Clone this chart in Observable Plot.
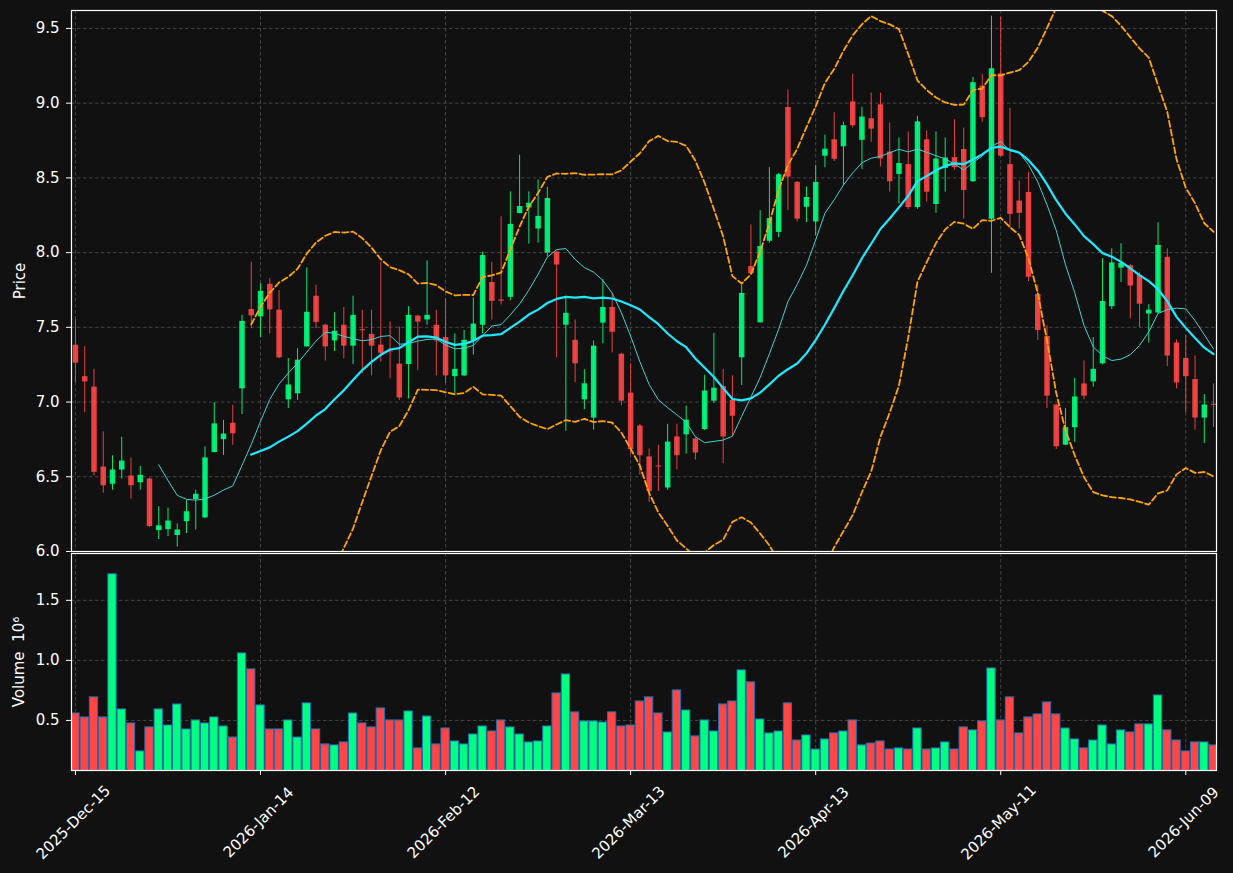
<!DOCTYPE html>
<html><head><meta charset="utf-8">
<script src="https://cdn.jsdelivr.net/npm/d3@7"></script>
<script src="https://cdn.jsdelivr.net/npm/@observablehq/plot@0.6"></script>
<style>
html,body{margin:0;padding:0;background:#111;}
#chart{position:relative;width:1233px;height:873px;background:#111;overflow:hidden;}
#chart svg{position:absolute;left:0;overflow:visible;}
</style></head><body><div id="chart"></div>
<script>
// ---- data ----
const opens = [7.38,7.17,7.10,6.565,6.45,6.545,6.505,6.46,6.485,6.14,6.146,6.107,6.20,6.348,6.225,6.662,6.748,6.858,7.088,7.619,
7.57,7.788,7.615,7.015,7.055,7.369,7.708,7.514,7.409,7.514,7.374,7.484,7.453,7.381,7.342,7.254,7.251,7.575,7.549,7.514,
7.432,7.17,7.175,7.409,7.514,7.80,7.683,7.701,8.261,8.299,8.158,7.997,8.004,7.514,7.413,7.015,6.893,7.528,7.633,7.32,
7.06,6.84,6.633,6.572,6.425,6.767,6.781,6.753,6.816,7.006,7.104,7.011,7.296,7.907,7.53,8.076,8.135,8.971,8.47,8.303,
8.205,8.645,8.755,8.708,9.008,8.751,8.896,8.989,8.673,8.523,8.589,8.301,8.755,8.322,8.563,8.636,8.69,8.474,9.114,8.224,
9.196,8.589,8.345,8.402,7.72,7.439,6.98,6.711,6.828,7.121,7.135,7.256,7.638,7.896,7.912,7.847,7.589,7.596,7.968,7.395,
7.292,7.151,6.893,6.985];
const highs = [7.55,7.37,7.22,6.80,6.64,6.765,6.625,6.57,6.49,6.30,6.29,6.184,6.34,6.41,6.70,6.997,6.877,6.978,7.58,7.936,
7.792,7.826,7.746,7.292,7.357,7.898,7.781,7.52,7.598,7.633,7.708,7.615,7.615,7.936,7.537,7.502,7.638,7.58,7.945,7.615,
7.69,7.456,7.479,7.697,8.004,7.936,8.24,8.406,8.652,8.406,8.486,8.437,8.01,7.701,7.549,7.217,7.409,7.819,7.725,7.327,
7.256,6.85,6.687,6.711,6.851,6.851,6.973,6.76,7.179,7.46,7.219,7.175,7.783,8.186,8.28,8.568,8.53,9.088,8.475,8.439,
8.584,8.786,8.936,8.872,9.193,8.973,9.067,9.067,8.868,8.767,8.807,8.912,8.814,8.807,8.767,8.889,8.833,9.172,9.193,9.582,
9.575,8.966,8.479,8.537,7.783,7.509,6.985,6.956,7.158,7.275,7.432,7.959,8.025,8.06,7.92,7.865,7.652,8.20,8.025,7.416,
7.444,7.31,7.05,7.121];
const lows = [7.13,6.93,6.505,6.39,6.41,6.485,6.35,6.41,6.16,6.08,6.10,6.03,6.12,6.144,6.22,6.66,6.643,6.711,6.917,7.491,
7.432,7.456,7.29,6.957,7.011,7.369,7.491,7.275,7.338,7.289,7.251,7.191,7.175,7.268,7.156,7.011,7.02,7.21,7.514,7.175,
7.124,7.057,7.17,7.315,7.456,7.549,7.65,7.678,8.26,8.057,8.064,7.971,7.296,6.804,7.13,6.949,6.812,7.39,7.329,6.975,
6.648,6.512,6.328,6.402,6.409,6.547,6.652,6.612,6.81,6.992,6.589,6.776,7.111,7.855,7.53,8.064,8.10,8.28,8.205,8.20,
8.111,8.568,8.61,8.451,8.833,8.556,8.737,8.573,8.404,8.327,8.287,8.29,8.338,8.263,8.404,8.551,8.224,8.47,8.872,7.861,
8.64,8.158,8.158,7.807,7.413,6.956,6.683,6.71,6.73,7.015,7.10,7.25,7.619,7.80,7.556,7.498,7.395,7.59,7.238,7.088,
6.929,6.812,6.722,6.83];
const closes = [7.26,7.135,6.53,6.44,6.545,6.605,6.44,6.51,6.167,6.172,6.204,6.144,6.266,6.383,6.626,6.854,6.786,6.788,7.54,7.577,
7.741,7.617,7.296,7.114,7.28,7.601,7.533,7.369,7.474,7.374,7.58,7.477,7.374,7.326,7.335,7.027,7.58,7.535,7.58,7.409,
7.175,7.219,7.413,7.522,7.98,7.674,7.675,8.189,8.308,8.33,8.242,8.362,7.917,7.594,7.256,7.122,7.374,7.633,7.467,7.006,
6.683,6.641,6.402,6.565,6.732,6.641,6.879,6.659,7.074,7.093,6.767,6.905,7.727,7.858,8.041,8.228,8.521,8.505,8.224,8.369,
8.47,8.692,8.624,8.849,8.849,8.907,8.826,8.626,8.474,8.596,8.301,8.875,8.404,8.626,8.633,8.568,8.416,9.137,8.903,9.231,
8.645,8.256,8.263,7.835,7.479,7.039,6.701,6.829,7.034,7.039,7.219,7.673,7.931,7.929,7.776,7.655,7.615,8.048,7.308,7.128,
7.17,6.893,6.98,6.978];
const volumes = [0.558,0.525,0.692,0.525,1.717,0.592,0.475,0.242,0.442,0.592,0.458,0.633,0.425,0.500,0.475,0.525,0.450,0.358,1.058,0.925,
0.625,0.425,0.425,0.500,0.358,0.642,0.425,0.300,0.292,0.317,0.558,0.475,0.442,0.600,0.500,0.500,0.575,0.267,0.533,0.300,
0.433,0.325,0.300,0.383,0.450,0.408,0.500,0.442,0.383,0.317,0.325,0.450,0.725,0.883,0.567,0.492,0.492,0.483,0.567,0.450,
0.458,0.658,0.692,0.558,0.400,0.750,0.583,0.367,0.500,0.408,0.633,0.658,0.917,0.817,0.508,0.392,0.408,0.642,0.333,0.375,
0.258,0.342,0.392,0.408,0.500,0.292,0.308,0.325,0.258,0.267,0.258,0.433,0.258,0.267,0.317,0.258,0.442,0.417,0.492,0.933,
0.500,0.692,0.392,0.525,0.550,0.650,0.550,0.433,0.342,0.267,0.333,0.458,0.300,0.417,0.400,0.467,0.467,0.708,0.417,0.333,
0.242,0.317,0.317,0.292];
const tickIdx = [0,20,40,60,80,100,120];
const tickLabels = ["2025-Dec-15","2026-Jan-14","2026-Feb-12","2026-Mar-13","2026-Apr-13","2026-May-11","2026-Jun-09"];
const priceTicks = [6.0,6.5,7.0,7.5,8.0,8.5,9.0,9.5];
const volTicks = [0.5,1.0,1.5];

// ---- styles ----
const UP = "#00ff80", DOWN = "#ff4646";
const rows = opens.map((o, i) => ({i, open: o, high: highs[i], low: lows[i], close: closes[i], vol: volumes[i]}));
const col = d => d.close >= d.open ? UP : DOWN;
const xDomain = [-0.43, 123.32];
const gridStyle = {stroke: "#464646", strokeOpacity: 1, strokeWidth: 1, strokeDasharray: "3.5,2.5"};
const FS = 15;
const font = {background: "transparent", color: "white", fontFamily: "DejaVu Sans", fontSize: FS + "px"};
const upper = V => d3.mean(V) + 2 * d3.deviation(V);
const lower = V => d3.mean(V) - 2 * d3.deviation(V);
const bbStyle = {stroke: "#ffa500", strokeWidth: 1.8, strokeDasharray: "6,3", clip: true};

const price = Plot.plot({
  width: 1233, height: 552, marginLeft: 71, marginRight: 17, marginTop: 10, marginBottom: 1,
  x: {domain: xDomain, axis: null},
  y: {domain: [6.0, 9.62], axis: null},
  color: {type: "identity"},
  style: font,
  marks: [
    Plot.gridY({ticks: priceTicks, ...gridStyle}),
    Plot.gridX({ticks: tickIdx, ...gridStyle}),
    Plot.ruleX(rows, {x: "i", y1: "low", y2: "high", stroke: col, strokeWidth: 1, strokeOpacity: 0.9, clip: true}),
    Plot.ruleX(rows, {x: "i", y1: "open", y2: "close", stroke: col, strokeWidth: 5.5, strokeOpacity: 0.9, clip: true}),
    Plot.lineY(rows, Plot.windowY({k: 20, anchor: "end", strict: true, reduce: upper}, {x: "i", y: "close", ...bbStyle})),
    Plot.lineY(rows, Plot.windowY({k: 20, anchor: "end", strict: true, reduce: lower}, {x: "i", y: "close", ...bbStyle})),
    Plot.lineY(rows, Plot.windowY({k: 10, anchor: "end", strict: true}, {x: "i", y: "close", stroke: "#40d2d2", strokeWidth: 1, clip: true})),
    Plot.lineY(rows, Plot.windowY({k: 20, anchor: "end", strict: true}, {x: "i", y: "close", stroke: "#1de9ff", strokeWidth: 2.2, clip: true})),
    Plot.frame({stroke: "white", strokeWidth: 1.2}),
    Plot.axisY({ticks: priceTicks, tickFormat: d3.format(".1f"), tickSize: 5, tickPadding: 7, label: null, fontSize: FS}),
    Plot.text(["Price"], {frameAnchor: "left", dx: -51, rotate: -90, fill: "white", fontSize: FS, textAnchor: "middle", lineAnchor: "middle"})
  ]
});

const tickRows = tickIdx.map((x, j) => ({x, label: tickLabels[j]}));
const volume = Plot.plot({
  width: 1233, height: 321, marginLeft: 71, marginRight: 17, marginTop: 1, marginBottom: 103,
  x: {domain: xDomain, axis: null},
  y: {domain: [0.083, 1.89], axis: null},
  color: {type: "identity"},
  style: font,
  marks: [
    Plot.gridY({ticks: volTicks, ...gridStyle}),
    Plot.gridX({ticks: tickIdx, ...gridStyle}),
    Plot.rect(rows, {x1: d => d.i - 0.45, x2: d => d.i + 0.45, y1: 0, y2: "vol", fill: col, stroke: "#1f6fb8", strokeWidth: 1, clip: true}),
    Plot.frame({stroke: "white", strokeWidth: 1.2}),
    Plot.axisY({ticks: volTicks, tickFormat: d3.format(".1f"), tickSize: 5, tickPadding: 7, label: null, fontSize: FS}),
    Plot.axisX({ticks: tickIdx, tickSize: 5, tickFormat: () => "", label: null}),
    Plot.text(tickRows, {x: "x", text: "label", frameAnchor: "bottom", dx: -2, dy: 52, rotate: -45, fill: "white", fontSize: FS, textAnchor: "middle", lineAnchor: "middle"}),
    Plot.text(["Volume\u00a0\u00a010\u2076"], {frameAnchor: "left", dx: -52, rotate: -90, fill: "white", fontSize: FS, textAnchor: "middle", lineAnchor: "middle"})
  ]
});

const chart = document.getElementById("chart");
price.style.top = "0px";
volume.style.top = "552px";
chart.appendChild(price);
chart.appendChild(volume);
</script>
</body></html>
